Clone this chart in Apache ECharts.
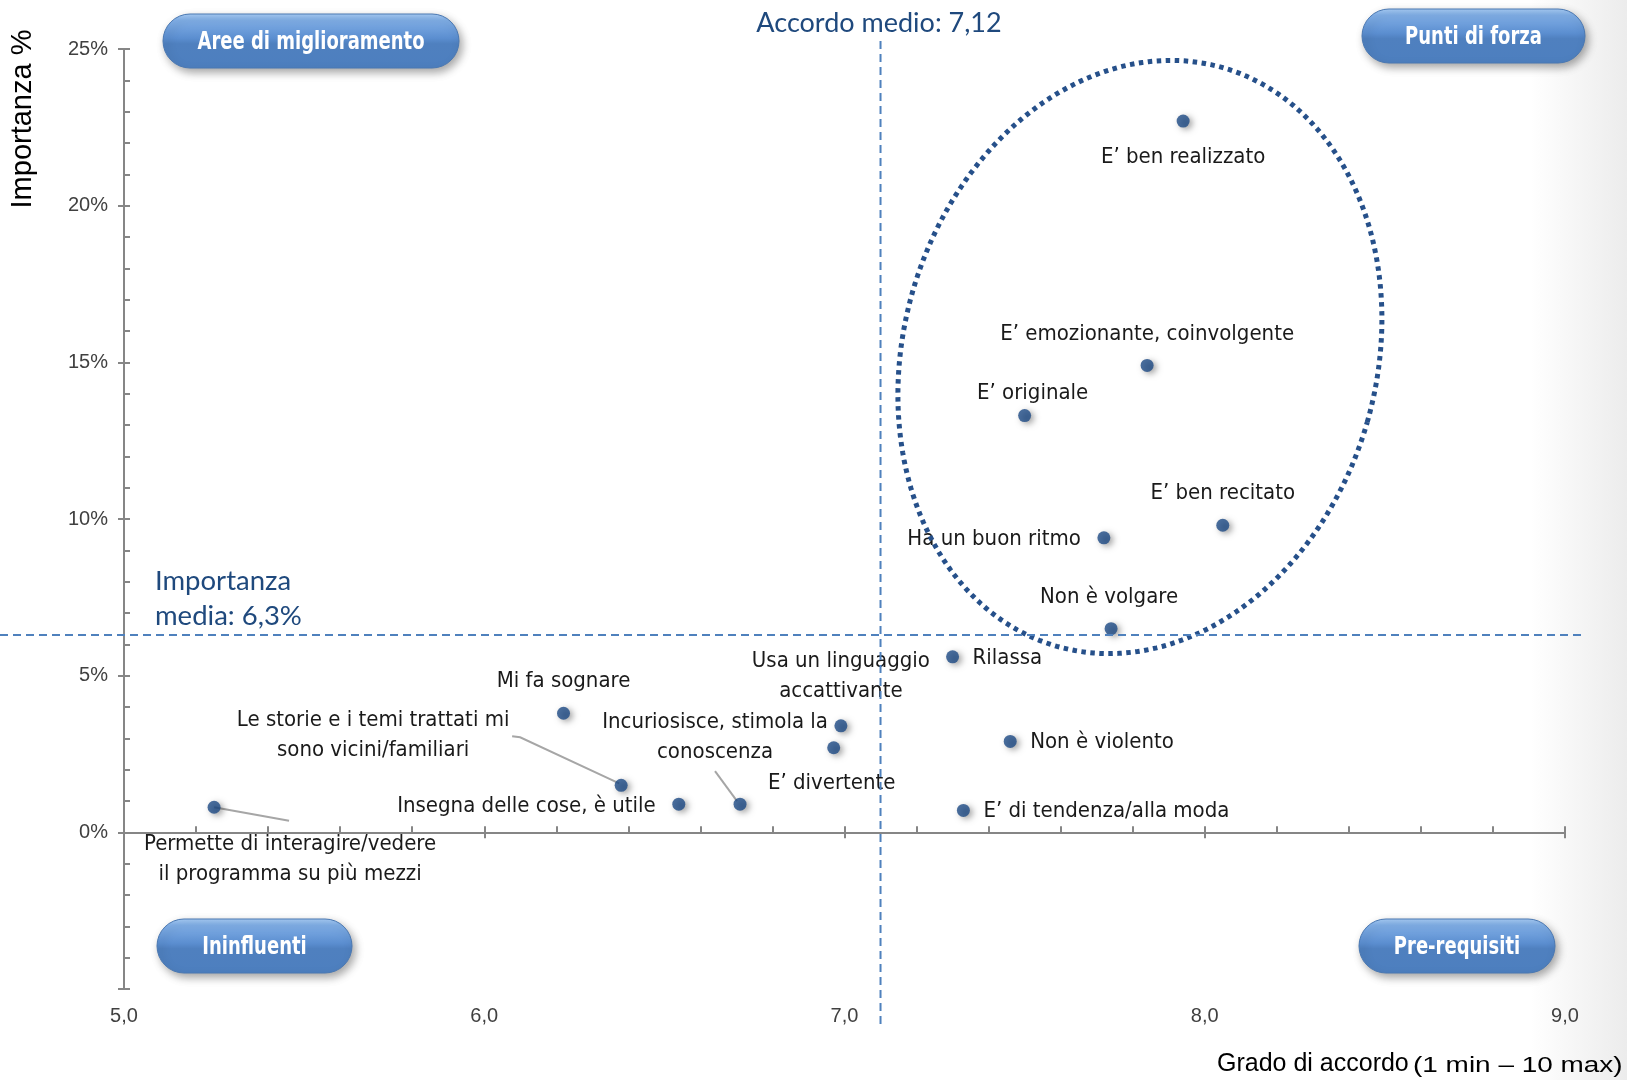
<!DOCTYPE html>
<html><head><meta charset="utf-8">
<script src="https://cdn.jsdelivr.net/npm/echarts@6/dist/echarts.min.js"></script>
<style>html,body{margin:0;padding:0;background:#fff}#c{width:1627px;height:1080px}</style>
</head><body><div id="c"></div>
<script>
// ---- data ----
const attributes = [
  "E’ ben realizzato",
  "E’ emozionante, coinvolgente",
  "E’ originale",
  "E’ ben recitato",
  "Ha un buon ritmo",
  "Non è volgare",
  "Rilassa",
  "Usa un linguaggio\naccattivante",
  "E’ divertente",
  "Incuriosisce, stimola la\nconoscenza",
  "Insegna delle cose, è utile",
  "Le storie e i temi trattati mi\nsono vicini/familiari",
  "Mi fa sognare",
  "Permette di interagire/vedere\nil programma su più mezzi",
  "Non è violento",
  "E’ di tendenza/alla moda"
];
const agreement  = [7.94, 7.84, 7.50, 8.05, 7.72, 7.74, 7.30, 6.99, 6.97, 6.71, 6.54, 6.38, 6.22, 5.25, 7.46, 7.33];
const importance = [22.7, 14.9, 13.3, 9.8, 9.4, 6.5, 5.6, 3.4, 2.7, 0.9, 0.9, 1.5, 3.8, 0.8, 2.9, 0.7];
const xTickLabels = ["5,0", "6,0", "7,0", "8,0", "9,0"];
const yTickLabels = ["", "0%", "5%", "10%", "15%", "20%", "25%"];
const meanAgreement = 7.12;
const meanAgreementLine = 7.1;
const meanImportance = 6.3;
const quadrantNames = ["Aree di miglioramento", "Punti di forza", "Ininfluenti", "Pre-requisiti"];

// ---- layout (label placement, px offsets from point) ----
const labelPlace = [
  [0, 36, 'center'], [0, -31, 'center'], [8, -22, 'center'], [0, -32, 'center'],
  [-23, 1, 'right'], [-2, -31, 'center'], [20, 1, 'left'], [0, -50, 'center'],
  [-2, 36, 'center'], [-25, -67, 'center'], [-23, 2, 'right'], [-248, -50, 'center'],
  [0, -32, 'center'], [76, 52, 'center'], [20, 1, 'left'], [20, 1, 'left']
];
const leaders = { 13: [[0,0],[75,13.5]], 11: [[-109,-49],[-101,-48],[-2,-2]], 9: [[-25,-33],[-3,-3]] };

const chart = echarts.init(document.getElementById('c'), null, {renderer: 'canvas'});
const NARROW = "'Liberation Sans Narrow', 'Arial Narrow', 'DejaVu Sans Condensed', sans-serif";
const SANS = "'Liberation Sans', Arial, sans-serif";
const axisColor = '#868686';

const points = attributes.map((n, i) => [agreement[i], importance[i], i]);

function axisCommon(extra) {
  return Object.assign({
    type: 'value', splitLine: {show: false},
    axisLine: {show: true, lineStyle: {color: axisColor, width: 2}},
  }, extra);
}

function renderLabel(params, api) {
  const i = api.value(2);
  const p = api.coord([api.value(0), api.value(1)]);
  const pl = labelPlace[i];
  const children = [];
  if (leaders[i]) {
    children.push({type: 'polyline', z2: 1,
      shape: {points: leaders[i].map(o => [p[0] + o[0], p[1] + o[1]])},
      style: {stroke: '#a6a6a6', lineWidth: 2, fill: null}});
  }
  children.push({type: 'text', z2: 2,
    style: {text: attributes[i], x: p[0] + pl[0], y: p[1] + pl[1],
      align: pl[2], verticalAlign: 'middle', font: '22px ' + NARROW,
      fill: '#1a1a1a', lineHeight: 30}});
  return {type: 'group', children: children};
}

chart.setOption({
  animation: false,
  backgroundColor: '#ffffff',
  grid: {left: 124, right: 62, top: 49, bottom: 91},
  xAxis: [
    axisCommon({min: 5, max: 9, interval: 1,
      axisTick: {show: true, inside: true, length: 6, lineStyle: {color: axisColor, width: 2}},
      minorTick: {show: true, splitNumber: 5, length: 6, lineStyle: {color: axisColor, width: 2}},
      axisLabel: {margin: 17, fontSize: 20, color: '#404040', fontFamily: SANS,
        formatter: (v) => xTickLabels[Math.round(v - 5)] || ''}}),
    axisCommon({min: 5, max: 9, interval: 1, position: 'bottom',
      axisTick: {show: true, inside: false, length: 6, lineStyle: {color: axisColor, width: 2}},
      axisLabel: {show: false}})
  ],
  yAxis: [
    axisCommon({min: -5, max: 25, interval: 5,
      axisTick: {show: true, inside: true, length: 6, lineStyle: {color: axisColor, width: 2}},
      minorTick: {show: true, splitNumber: 5, length: 6, lineStyle: {color: axisColor, width: 2}},
      axisLabel: {margin: 16, fontSize: 20, color: '#404040', fontFamily: SANS,
        formatter: (v) => yTickLabels[Math.round(v / 5) + 1] || ''}}),
    axisCommon({min: -5, max: 25, interval: 5, position: 'left',
      axisTick: {show: true, inside: false, length: 6, lineStyle: {color: axisColor, width: 2}},
      axisLabel: {show: false}})
  ],
  series: [{
    type: 'custom', z: 4, clip: false,
    renderItem: renderLabel,
    encode: {x: 0, y: 1},
    data: points
  }, {
    type: 'scatter', z: 5,
    symbolSize: 13,
    itemStyle: {color: '#1d4a85', shadowBlur: 6, shadowOffsetX: 3, shadowOffsetY: 2, shadowColor: 'rgba(0,0,0,0.45)'},
    data: points
  }]
});

// ---- annotations ----
const g = [];
const px = (x, y) => chart.convertToPixel({gridIndex: 0}, [x, y]);

// right edge shading
g.push({type: 'rect', z: -10, silent: true, shape: {x: 1530, y: 0, width: 97, height: 1080},
  style: {fill: new echarts.graphic.LinearGradient(0, 0, 1, 0, [
    {offset: 0, color: 'rgba(200,200,200,0)'}, {offset: 1, color: 'rgba(200,200,200,0.35)'}])}});

// mean lines
const vx = px(meanAgreementLine, 0)[0];
const hy = px(5, meanImportance)[1];
const dashStyle = {stroke: '#4f81bd', lineWidth: 2, lineDash: [8, 5]};
g.push({type: 'line', z: 50, shape: {x1: vx, y1: 41, x2: vx, y2: 1027}, style: dashStyle});
g.push({type: 'line', z: 50, shape: {x1: 0, y1: hy, x2: 1585, y2: hy}, style: dashStyle});

// dotted ellipse around strengths (slightly tilted)
(function () {
  const c = px(7.82, 15.17);
  const a = 301, b = 236.5, th = 16 * Math.PI / 180;
  const ux = Math.sin(th), uy = -Math.cos(th), vx2 = Math.cos(th), vy2 = Math.sin(th);
  const pts = [];
  for (let k = 0; k <= 240; k++) {
    const t = k / 240 * Math.PI * 2;
    pts.push([c[0] + a * Math.sin(t) * ux + b * Math.cos(t) * vx2,
              c[1] + a * Math.sin(t) * uy + b * Math.cos(t) * vy2]);
  }
  g.push({type: 'polyline', z: 45, shape: {points: pts},
    style: {stroke: '#26508a', lineWidth: 5, lineDash: [4.5, 4.5], fill: null}});
})();

// mean labels
g.push({type: 'text', z: 60, x: 879, y: 23, style: {text: 'Accordo medio: ' + String(meanAgreement).replace('.', ','),
  font: "27px Lato, 'Open Sans', sans-serif", fill: '#1f497d', align: 'center', verticalAlign: 'middle'}});
g.push({type: 'text', z: 60, x: 155, y: 599, style: {text: 'Importanza\nmedia: ' + String(meanImportance).replace('.', ',') + '%',
  font: "27.5px Lato, 'Open Sans', sans-serif", fill: '#1f497d', align: 'left', verticalAlign: 'middle', lineHeight: 35}});

// axis titles
g.push({type: 'text', z: 60, x: 23, y: 119, rotation: Math.PI / 2, style: {text: 'Importanza %',
  font: "29px " + SANS, fill: '#000', align: 'center', verticalAlign: 'middle'}});
g.push({type: 'text', z: 60, x: 1217, y: 1064, style: {text: 'Grado di accordo',
  font: "25px " + SANS, fill: '#000', align: 'left', verticalAlign: 'middle'}});
g.push({type: 'text', z: 60, x: 1413, y: 1066, scaleX: 1.27, style: {text: '(1 min – 10 max)',
  font: "22px " + SANS, fill: '#000', align: 'left', verticalAlign: 'middle'}});

// quadrant badges
const badges = [
  [163, 14, 296, 54], [1362, 9, 223, 54], [157, 919, 195, 54], [1359, 919, 196, 54]
];
badges.forEach((bx, i) => {
  g.push({type: 'group', z: 70, x: bx[0], y: bx[1], children: [
    {type: 'rect', shape: {x: 0, y: 0, width: bx[2], height: bx[3], r: bx[3] / 2},
      style: {fill: new echarts.graphic.LinearGradient(0, 0, 0, 1, [
        {offset: 0, color: '#a9cdf5'}, {offset: 0.12, color: '#80aee6'}, {offset: 0.45, color: '#5b8ed0'},
        {offset: 0.55, color: '#4f80bf'}, {offset: 1, color: '#4d7fbf'}]),
        stroke: '#4a78b2', lineWidth: 1,
        shadowBlur: 8, shadowOffsetX: 3, shadowOffsetY: 4, shadowColor: 'rgba(0,0,0,0.35)'}},
    {type: 'text', x: bx[2] / 2, y: bx[3] / 2 + 1, scaleX: 0.8, style: {text: quadrantNames[i],
      font: "bold 25px " + NARROW, fill: '#ffffff', align: 'center', verticalAlign: 'middle'}}
  ]});
});

chart.setOption({graphic: g});
</script>
</body></html>
